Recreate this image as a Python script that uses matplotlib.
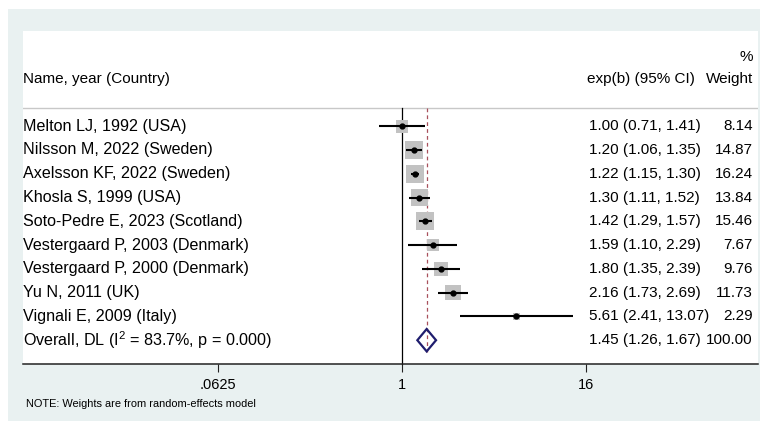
import numpy as np
import matplotlib
matplotlib.use("Agg")
import matplotlib.pyplot as plt
from matplotlib.patches import Rectangle, Polygon

plt.rcParams['font.family'] = ['Liberation Sans', 'DejaVu Sans']
plt.rcParams['mathtext.fontset'] = 'custom'
plt.rcParams['mathtext.rm'] = 'Liberation Sans'
plt.rcParams['mathtext.it'] = 'Liberation Sans'

studies = ["Melton LJ, 1992 (USA)", "Nilsson M, 2022 (Sweden)", "Axelsson KF, 2022 (Sweden)",
           "Khosla S, 1999 (USA)", "Soto-Pedre E, 2023 (Scotland)", "Vestergaard P, 2003 (Denmark)",
           "Vestergaard P, 2000 (Denmark)", "Yu N, 2011 (UK)", "Vignali E, 2009 (Italy)"]
est = [1.00, 1.20, 1.22, 1.30, 1.42, 1.59, 1.80, 2.16, 5.61]
lo = [0.71, 1.06, 1.15, 1.11, 1.29, 1.10, 1.35, 1.73, 2.41]
hi = [1.41, 1.35, 1.30, 1.52, 1.57, 2.29, 2.39, 2.69, 13.07]
weights = [8.14, 14.87, 16.24, 13.84, 15.46, 7.67, 9.76, 11.73, 2.29]
overall_label = r"Overall, DL (I$^{2}$ = 83.7%, p = 0.000)"
overall = (1.45, 1.26, 1.67)
tick_vals = [0.0625, 1, 16]
tick_labels = [".0625", "1", "16"]

W, H = 760, 421
fig = plt.figure(figsize=(W / 100, H / 100), dpi=100)
fig.patch.set_facecolor('white')
bgcol = '#E9F1F1'
fig.patches.append(Rectangle((8 / W, 0), 1 - 8 / W, 1 - 9 / H, transform=fig.transFigure,
                             facecolor=bgcol, edgecolor='none', zorder=-5))

ax = fig.add_axes([23 / W, (H - 364) / H, (758 - 23) / W, (364 - 31) / H])
ax.set_zorder(1)
ax.set_facecolor('white')
for s in ['top', 'right', 'left']:
    ax.spines[s].set_visible(False)
ax.spines['bottom'].set_linewidth(1.1)
ax.spines['bottom'].set_color('#222222')

px_per = 46.0
xmin = (23 - 402) / px_per
xmax = (758 - 402) / px_per
ymin, ymax = 10, -4
py_per = (364 - 31) / (ymin - ymax)
ax.set_xlim(xmin, xmax)
ax.set_ylim(ymin, ymax)
ax.set_yticks([])
ax.set_xticks(np.log2(tick_vals))
ax.set_xticklabels(tick_labels, fontsize=10.5)
ax.tick_params(axis='x', length=6, width=0.8, color='#222222', pad=4)

fs_head = 11.0
fs_lab = 11.6
fs_ci = 11.0
fs_w = 11.0
n = len(studies)
ypos = np.arange(n)
x_ci = xmin + (589 - 23) / px_per
x_w = xmin + (753 - 23) / px_per

# header
ax.axhline(-0.75, color='#c8c8c8', lw=1.0, xmin=0, xmax=1)
ax.text(0, -2.0, "Name, year (Country)", transform=ax.get_yaxis_transform(), ha='left', va='center', fontsize=fs_head)
ax.text(x_ci - 2 / px_per, -2.0, "exp(b) (95% CI)", ha='left', va='center', fontsize=fs_head)
ax.text(x_w, -2.0, "Weight", ha='right', va='center', fontsize=fs_head)
ax.text(x_w, -2.9, "%", ha='right', va='center', fontsize=fs_head)

# null line and overall line
ax.plot([0, 0], [-0.75, 10], color='black', lw=0.9, zorder=2, clip_on=False)
ax.plot([np.log2(overall[0])] * 2, [-0.75, 9.5], color='#a8505c', lw=0.9,
        dashes=(3, 2.5), zorder=2)

for i in range(n):
    y = ypos[i]
    side_px = 4.5 * np.sqrt(weights[i])
    bw = side_px / px_per
    bh = side_px / py_per
    cx = np.log2(est[i])
    ax.add_patch(Rectangle((cx - bw / 2, y - bh / 2), bw, bh, facecolor='#c2c2c2',
                           edgecolor='none', zorder=3))
    ax.plot([np.log2(lo[i]), np.log2(hi[i])], [y, y], color='black', lw=1.5, zorder=4,
            solid_capstyle='butt')
    ax.plot(cx, y, marker='o', ms=3.5, color='black', zorder=5)
    ax.text(0, y, studies[i], transform=ax.get_yaxis_transform(), ha='left', va='center', fontsize=fs_lab)
    ax.text(x_ci, y, f"{est[i]:.2f} ({lo[i]:.2f}, {hi[i]:.2f})",
            ha='left', va='center', fontsize=fs_ci)
    ax.text(x_w, y, f"{weights[i]:.2f}", ha='right', va='center', fontsize=fs_w)

yo = n
dh = 0.47
poly = Polygon([(np.log2(overall[1]), yo), (np.log2(overall[0]), yo - dh),
                (np.log2(overall[2]), yo), (np.log2(overall[0]), yo + dh)],
               closed=True, facecolor='none', edgecolor='#1f1d6e', lw=1.6, zorder=6)
ax.add_patch(poly)
ax.text(0, yo, overall_label, transform=ax.get_yaxis_transform(), ha='left', va='center', fontsize=fs_lab)
ax.text(x_ci, yo, f"{overall[0]:.2f} ({overall[1]:.2f}, {overall[2]:.2f})",
        ha='left', va='center', fontsize=fs_ci)
ax.text(x_w, yo, "100.00", ha='right', va='center', fontsize=fs_w)

fig.text(26 / W, 1 - 404 / H, "NOTE: Weights are from random-effects model", ha='left', va='center',
         fontsize=7.9)

fig.savefig("out.png", dpi=100, facecolor=fig.get_facecolor())
